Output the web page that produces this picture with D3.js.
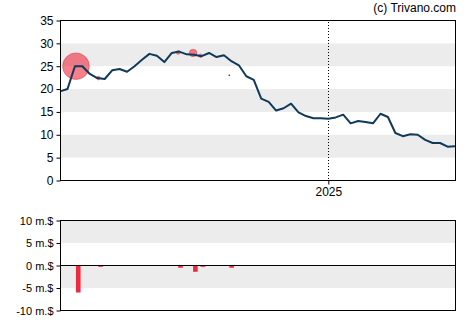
<!DOCTYPE html>
<html>
<head>
<meta charset="utf-8">
<script src="https://cdn.jsdelivr.net/npm/d3@7"></script>
<style>
  html, body { margin: 0; padding: 0; background: #fff; }
  svg { display: block; font-family: "Liberation Sans", Arial, sans-serif; }
</style>
</head>
<body>
<svg id="chart" width="470" height="325"></svg>
<script>
// Weekly closing price (USD), one value per week starting at firstWeek
const firstWeek = "2024-04-24";
const prices = [
  19.5, 20.0, 25.0, 25.0, 23.3, 22.4, 22.2, 24.1, 24.4, 23.8,
  25.0, 26.4, 27.7, 27.3, 25.9, 27.9, 28.2, 27.6, 27.5, 27.2,
  27.9, 27.0, 27.4, 26.1, 25.2, 22.8, 22.0, 17.9, 17.2, 15.3,
  15.8, 16.8, 14.9, 14.1, 13.6, 13.6, 13.5, 13.8, 14.4, 12.5,
  13.0, 12.8, 12.5, 14.6, 13.9, 10.4, 9.7, 10.1, 10.0, 8.9,
  8.2, 8.2, 7.4, 7.5
];

// Insider transactions: date, net value (million $), transaction price
const tradeDates  = ["2024-05-09", "2024-05-30", "2024-08-13", "2024-08-27", "2024-09-03", "2024-09-30"];
const tradeValues = [-6.0, -0.3, -0.5, -1.4, -0.3, -0.5];
const tradePrices = [25.0, 22.4, 28.0, 27.9, 27.3, 23.0];

const priceTicks = [0, 5, 10, 15, 20, 25, 30, 35];
const flowTicks = [-10, -5, 0, 5, 10];
const flowTickLabels = ["-10 m.$", "-5 m.$", "0 m.$", "5 m.$", "10 m.$"];
const yearMarks = ["2025-01-01"];
const yearLabels = ["2025"];

const parse = d3.timeParse("%Y-%m-%d");
const start = parse(firstWeek);
const weeks = prices.map((p, i) => ({ date: d3.timeDay.offset(start, 7 * i), value: p }));
const trades = tradeDates.map((d, i) => ({ date: parse(d), value: tradeValues[i], price: tradePrices[i] }));

const svg = d3.select("#chart");
const left = 60, right = 455;

const x = d3.scaleTime()
  .domain([weeks[0].date, weeks[weeks.length - 1].date])
  .range([left, right]);

const yTop = d3.scaleLinear().domain([0, 35]).range([180.5, 20.5]);
const yBot = d3.scaleLinear().domain([-10, 10]).range([310.5, 220.5]);

const bandColor = "#ececec";
const red = "#ee2a3e";
const navy = "#0f3a5a";

// Upper panel: alternating bands
[[5, 10], [15, 20], [25, 30]].forEach(([a, b]) => {
  svg.append("rect")
    .attr("x", left).attr("width", right - left)
    .attr("y", yTop(b)).attr("height", yTop(a) - yTop(b))
    .attr("fill", bandColor);
});

// Lower panel bands
[[5, 10], [-5, 0]].forEach(([a, b]) => {
  svg.append("rect")
    .attr("x", left).attr("width", right - left)
    .attr("y", yBot(b)).attr("height", yBot(a) - yBot(b))
    .attr("fill", bandColor);
});

// Year divider (dotted, pixel-aligned)
yearMarks.forEach(d => {
  const xx = Math.round(x(parse(d))) + 0.5;
  svg.append("line")
    .attr("x1", xx).attr("x2", xx)
    .attr("y1", Math.round(yTop(35)) + 1).attr("y2", Math.round(yTop(0)))
    .attr("stroke", "#000").attr("stroke-width", 1)
    .attr("shape-rendering", "crispEdges")
    .attr("stroke-dasharray", "1,2");
});

// Insider trade markers (size by value)
const rScale = d3.scaleLinear().domain([0, 6]).range([0, 12.5]);
svg.append("g").selectAll("circle")
  .data(trades)
  .join("circle")
  .attr("cx", d => x(d.date))
  .attr("cy", d => yTop(d.price))
  .attr("r", (d, i) => i === trades.length - 1 ? 0.8 : Math.max(1.8, rScale(Math.abs(d.value)) + 0.8))
  .attr("fill", (d, i) => i === trades.length - 1 ? "#a0002a" : red)
  .attr("fill-opacity", (d, i) => i === trades.length - 1 ? 1 : 0.6)
  .attr("stroke", (d, i) => i === trades.length - 1 ? "none" : red)
  .attr("stroke-opacity", 0.5);

// Price line
svg.append("path")
  .datum(weeks)
  .attr("fill", "none")
  .attr("stroke", navy)
  .attr("stroke-width", 2)
  .attr("stroke-linejoin", "round")
  .attr("d", d3.line().x(d => x(d.date)).y(d => yTop(d.value)));

// Upper axes
const axisLeftTop = d3.axisLeft(yTop).tickValues(priceTicks).tickSize(4).tickPadding(3);
const gL = svg.append("g").attr("transform", `translate(${left + 0.5},0)`).call(axisLeftTop);
const axisBottom = d3.axisBottom(x).tickValues(yearMarks.map(parse))
  .tickFormat((d, i) => yearLabels[i]).tickSize(4).tickPadding(3);
const gB = svg.append("g").attr("transform", `translate(0,${yTop(0)})`).call(axisBottom);
[gL, gB].forEach(g => {
  g.select(".domain").remove();
  g.selectAll("line").attr("stroke", "#000");
  g.selectAll("text").attr("fill", "#000").style("font-size", "12px")
    .style("font-family", '"Liberation Sans", Arial, sans-serif');
});

// Upper frame
svg.append("rect")
  .attr("x", left + 0.5).attr("y", yTop(35))
  .attr("width", right - left).attr("height", yTop(0) - yTop(35))
  .attr("fill", "none").attr("stroke", "#000").attr("stroke-width", 1);

// Lower panel: trade value bars
svg.append("g").selectAll("rect")
  .data(trades)
  .join("rect")
  .attr("x", d => x(d.date))
  .attr("width", 4.6)
  .attr("y", d => yBot(Math.max(0, d.value)))
  .attr("height", d => Math.abs(yBot(d.value) - yBot(0)))
  .attr("fill", red);

// Zero line
svg.append("line")
  .attr("x1", left).attr("x2", right + 0.5)
  .attr("y1", yBot(0)).attr("y2", yBot(0))
  .attr("stroke", "#000").attr("stroke-width", 1);

const axisLeftBot = d3.axisLeft(yBot).tickValues(flowTicks)
  .tickFormat((d, i) => flowTickLabels[i]).tickSize(4).tickPadding(3);
const gL2 = svg.append("g").attr("transform", `translate(${left + 0.5},0)`).call(axisLeftBot);
gL2.select(".domain").remove();
gL2.selectAll("line").attr("stroke", "#000");
gL2.selectAll("text").attr("fill", "#000").style("font-size", "11px")
  .style("font-family", '"Liberation Sans", Arial, sans-serif');

// Lower frame
svg.append("rect")
  .attr("x", left + 0.5).attr("y", yBot(10))
  .attr("width", right - left).attr("height", yBot(-10) - yBot(10))
  .attr("fill", "none").attr("stroke", "#000").attr("stroke-width", 1);

// Credit
svg.append("text")
  .attr("x", 456).attr("y", 12)
  .attr("text-anchor", "end")
  .style("font-size", "12px")
  .attr("fill", "#000")
  .text("(c) Trivano.com");
</script>
</body>
</html>
